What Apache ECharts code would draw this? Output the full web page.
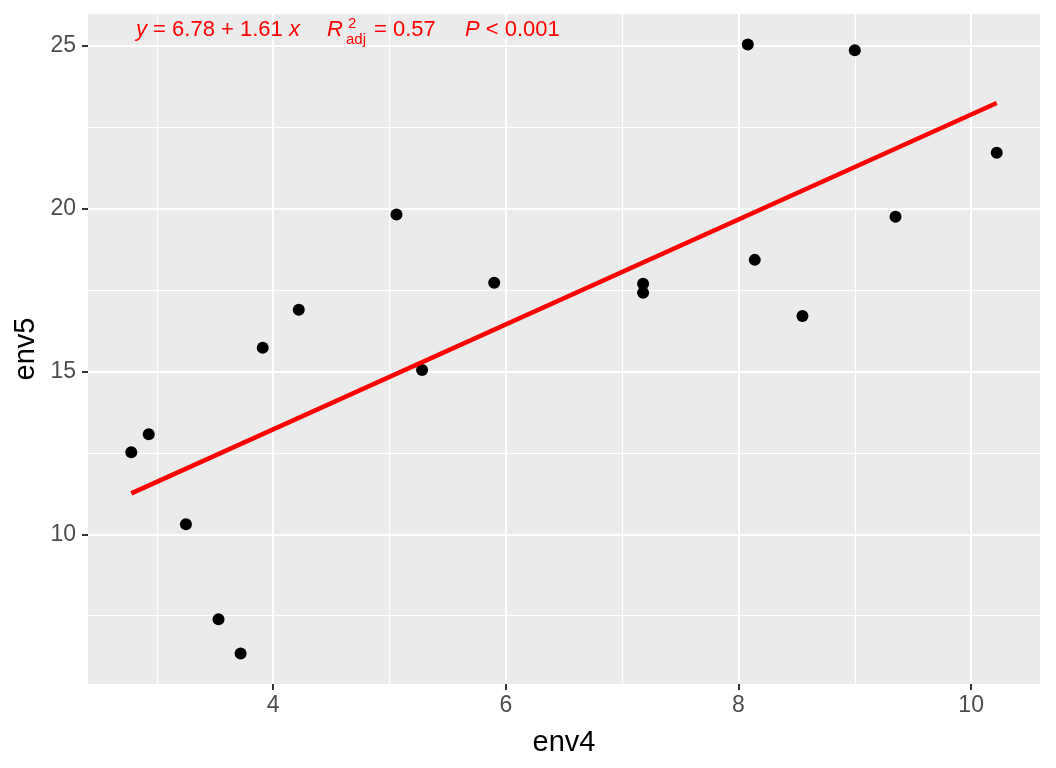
<!DOCTYPE html>
<html><head><meta charset="utf-8">
<script src="https://cdn.jsdelivr.net/npm/echarts@6/dist/echarts.min.js"></script>
<style>html,body{margin:0;padding:0;background:#fff}#c{width:1056px;height:768px}</style>
</head><body><div id="c"></div>
<script>
// data
const env4 = [2.78, 2.93, 3.25, 3.53, 3.72, 3.91, 4.22, 5.06, 5.28, 5.90, 7.18, 7.18, 8.08, 8.14, 8.55, 9.00, 9.35, 10.22];
const env5 = [12.52, 13.07, 10.31, 7.39, 6.34, 15.72, 16.89, 19.81, 15.04, 17.72, 17.69, 17.41, 25.03, 18.42, 16.70, 24.85, 19.74, 21.71];
const xMajorTicks = [4, 6, 8, 10];
const xMinorTicks = [3, 5, 7, 9];
const yMajorTicks = [10, 15, 20, 25];
const yMinorTicks = [7.5, 12.5, 17.5, 22.5];
const fitIntercept = 6.78;
const fitSlope = 1.61;
const fitR2adj = '0.57';
const fitP = '< 0.001';
const xTitle = 'env4';
const yTitle = 'env5';

const pts = env4.map((x, i) => [x, env5[i]]);
const xMinD = Math.min(...env4), xMaxD = Math.max(...env4);
const yMinD = Math.min(...env5), yMaxD = Math.max(...env5);
const xPad = (xMaxD - xMinD) * 0.05, yPad = (yMaxD - yMinD) * 0.05;
const xMin = xMinD - xPad, xMax = xMaxD + xPad;
const yMin = yMinD - yPad, yMax = yMaxD + yPad;
const fitLine = [[xMinD, fitIntercept + fitSlope * xMinD], [xMaxD, fitIntercept + fitSlope * xMaxD]];

const FONT = '"Liberation Sans", Arial, Helvetica, sans-serif';
const RED = '#FF0000';

function majorAxis(ticks, name, isY) {
  return {
    type: 'value', min: xMin, max: xMax,
    axisLine: { show: false },
    axisTick: { show: true, customValues: ticks, length: 6, lineStyle: { color: '#333333', width: 2 } },
    axisLabel: { customValues: ticks, color: '#4D4D4D', fontSize: 23, fontFamily: FONT, margin: isY ? 12 : 10 },
    splitLine: { show: true, lineStyle: { color: '#FFFFFF', width: 2 } },
    name: name, nameLocation: 'middle', nameGap: isY ? 48 : 44, nameMoveOverlap: false,
    nameTextStyle: { color: '#000000', fontSize: 29, fontFamily: FONT },
    z: 2
  };
}
function minorAxis(ticks) {
  return {
    type: 'value', min: xMin, max: xMax,
    axisLine: { show: false },
    axisTick: { show: false, customValues: ticks },
    axisLabel: { show: false, customValues: ticks },
    splitLine: { show: true, lineStyle: { color: '#FFFFFF', width: 1 } },
    z: 1
  };
}
const xA = majorAxis(xMajorTicks, xTitle, false);
const xB = minorAxis(xMinorTicks);
const yA = Object.assign(majorAxis(yMajorTicks, yTitle, true), { min: yMin, max: yMax });
const yB = Object.assign(minorAxis(yMinorTicks), { min: yMin, max: yMax });

const chart = echarts.init(document.getElementById('c'), null, { renderer: 'canvas' });
const tStyle = (text, x, y, size, italic) => ({
  type: 'text', x: x, y: y, z: 100,
  style: { text: text, fill: RED, fontSize: size, fontFamily: FONT, fontStyle: italic ? 'italic' : 'normal', verticalAlign: 'middle', align: 'left' }
});
chart.setOption({
  animation: false,
  backgroundColor: '#FFFFFF',
  grid: { left: 88, right: 16, top: 14, bottom: 84, show: true, backgroundColor: '#EBEBEB', borderWidth: 0, containLabel: false, outerBoundsMode: 'none' },
  xAxis: [xA, xB],
  yAxis: [yA, yB],
  series: [
    { type: 'scatter', xAxisIndex: 0, yAxisIndex: 0, data: pts, symbol: 'circle', symbolSize: 12,
      itemStyle: { color: '#000000', borderWidth: 0, opacity: 1 }, z: 3 },
    { type: 'line', xAxisIndex: 0, yAxisIndex: 0, data: fitLine, symbol: 'none', silent: true,
      lineStyle: { color: RED, width: 4.5 }, z: 4 }
  ],
  graphic: [
    {
      type: 'text', x: 136, y: 30, z: 100,
      style: {
        text: '{i|y} = ' + fitIntercept.toFixed(2) + ' + ' + fitSlope.toFixed(2) + ' {i|x}',
        fill: RED, fontSize: 22, fontFamily: FONT, verticalAlign: 'middle', align: 'left',
        rich: { i: { fontStyle: 'italic', fontSize: 22, fontFamily: FONT, fill: RED } }
      }
    },
    tStyle('R', 327, 30, 22, true),
    tStyle('2', 348, 24, 15, false),
    tStyle('adj', 346, 40, 15, false),
    tStyle('= ' + fitR2adj, 374, 30, 22, false),
    {
      type: 'text', x: 465, y: 30, z: 100,
      style: {
        text: '{i|P} ' + fitP,
        fill: RED, fontSize: 22, fontFamily: FONT, verticalAlign: 'middle', align: 'left',
        rich: { i: { fontStyle: 'italic', fontSize: 22, fontFamily: FONT, fill: RED } }
      }
    }
  ]
});
</script></body></html>
